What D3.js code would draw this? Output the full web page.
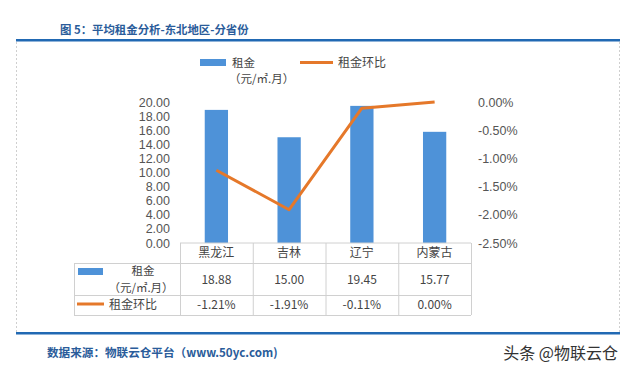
<!DOCTYPE html>
<html>
<head>
<meta charset="utf-8">
<script src="https://cdn.jsdelivr.net/npm/d3@7"></script>
<style>
  html, body { margin: 0; padding: 0; background: #fff; }
  svg { display: block; font-family: "Noto Sans CJK SC", "Noto Sans", sans-serif; }
</style>
</head>
<body>
<div id="chart"></div>
<script>
const provinces = ['黑龙江', '吉林', '辽宁', '内蒙古'];
const rent = [18.88, 15.00, 19.45, 15.77];          // 元/㎡.月
const rentChange = [-0.0121, -0.0191, -0.0011, 0.0]; // 环比
const rentTicks = [0, 2, 4, 6, 8, 10, 12, 14, 16, 18, 20];
const changeTicks = [0, -0.005, -0.01, -0.015, -0.02, -0.025];

(function () {
  const W = 640, H = 377;
  const blue = '#4e92d8', orange = '#e5782a', txt = '#444', head = '#2a5c9a';
  const pct = v => d3.format('.2%')(v).replace('−', '-');
  const svg = d3.select('#chart').append('svg').attr('width', W).attr('height', H);

  // frame: rules + dashed sides
  svg.append('rect').attr('x', 16).attr('y', 39).attr('width', 604).attr('height', 2.5).attr('fill', '#2169b3');
  svg.append('rect').attr('x', 16).attr('y', 332).attr('width', 604).attr('height', 2.5).attr('fill', '#2169b3');
  [16.5, 619.5].forEach(xp => svg.append('line')
    .attr('x1', xp).attr('x2', xp).attr('y1', 42).attr('y2', 332)
    .attr('stroke', '#cfcfcf').attr('stroke-dasharray', '2,2'));

  svg.append('text').attr('x', 60).attr('y', 34)
    .attr('font-size', 11.4).attr('font-weight', 700).attr('fill', head)
    .text('图 5：平均租金分析-东北地区-分省份');

  // legend
  const lg = svg.append('g').attr('font-size', 12).attr('fill', txt);
  lg.append('rect').attr('x', 200).attr('y', 59).attr('width', 26).attr('height', 7).attr('fill', blue);
  lg.append('text').attr('x', 232).attr('y', 66.5).attr('font-size', 11.5).attr('fill', txt).text('租金');
  lg.append('text').attr('x', 229).attr('y', 83).attr('font-size', 11.5).attr('fill', txt).text('（元/㎡.月）');
  lg.append('line').attr('x1', 300).attr('x2', 333).attr('y1', 62.5).attr('y2', 62.5)
    .attr('stroke', orange).attr('stroke-width', 3);
  lg.append('text').attr('x', 338).attr('y', 67).attr('fill', txt).text('租金环比');

  const top = 102, bottom = 243, left = 180, right = 471;
  const x = d3.scaleBand().domain(provinces).range([left, right]).paddingInner(0.68).paddingOuter(0.34);
  const xc = d3.scaleBand().domain(provinces).range([left, right]);
  const y = d3.scaleLinear().domain([0, 20]).range([bottom, top]);
  const y2 = d3.scaleLinear().domain([-0.025, 0]).range([bottom, top]);

  const gy = svg.append('g').attr('transform', `translate(${left},0)`)
    .call(d3.axisLeft(y).tickValues(rentTicks).tickFormat(d3.format('.2f')).tickSize(0).tickPadding(10));
  const gy2 = svg.append('g').attr('transform', `translate(${right},0)`)
    .call(d3.axisRight(y2).tickValues(changeTicks).tickFormat(pct).tickSize(0).tickPadding(7));
  [gy, gy2].forEach(g => {
    g.select('.domain').remove();
    g.selectAll('text').attr('font-size', 12.5).attr('fill', '#555')
      .attr('font-family', '"Liberation Sans", Arial, sans-serif');
  });

  svg.append('g').selectAll('rect').data(provinces).join('rect')
    .attr('x', d => x(d)).attr('width', x.bandwidth())
    .attr('y', (d, i) => y(rent[i])).attr('height', (d, i) => y(0) - y(rent[i]))
    .attr('fill', blue);

  const line = d3.line().x(d => xc(d) + xc.bandwidth() / 2).y((d, i) => y2(rentChange[i]));
  svg.append('path').datum(provinces).attr('d', line)
    .attr('fill', 'none').attr('stroke', orange).attr('stroke-width', 3).attr('stroke-linejoin', 'round');

  // data table
  const rows = [243, 263, 295, 315];
  const tL = 74;
  const grid = svg.append('g').attr('stroke', '#d0d0d0').attr('fill', 'none');
  grid.append('line').attr('x1', left).attr('x2', right).attr('y1', rows[0]).attr('y2', rows[0]);
  [rows[1], rows[2], rows[3]].forEach(yy => grid.append('line')
    .attr('x1', tL).attr('x2', right).attr('y1', yy + 0.5).attr('y2', yy + 0.5));
  grid.append('line').attr('x1', tL + 0.5).attr('x2', tL + 0.5).attr('y1', rows[1]).attr('y2', rows[3]);
  provinces.concat([null]).forEach(p => {
    const xx = p ? xc(p) : right;
    grid.append('line').attr('x1', xx + 0.5).attr('x2', xx + 0.5).attr('y1', rows[0]).attr('y2', rows[3]);
  });

  const tt = svg.append('g').attr('font-size', 12).attr('fill', txt).attr('text-anchor', 'middle');
  const cx = p => xc(p) + xc.bandwidth() / 2;
  tt.selectAll('text.cat').data(provinces).join('text').attr('class', 'cat')
    .attr('x', cx).attr('y', 257).text(d => d);
  tt.selectAll('text.rent').data(provinces).join('text').attr('class', 'rent')
    .attr('x', cx).attr('y', 283.5).text((d, i) => d3.format('.2f')(rent[i]));
  tt.selectAll('text.chg').data(provinces).join('text').attr('class', 'chg')
    .attr('x', cx).attr('y', 309).text((d, i) => pct(rentChange[i]));

  svg.append('rect').attr('x', 78).attr('y', 268).attr('width', 25).attr('height', 7).attr('fill', blue);
  tt.append('text').attr('x', 143).attr('y', 275).attr('font-size', 11.5).text('租金');
  tt.append('text').attr('x', 141).attr('y', 291.5).attr('font-size', 11.5).text('（元/㎡.月）');
  svg.append('line').attr('x1', 77).attr('x2', 104).attr('y1', 304).attr('y2', 304)
    .attr('stroke', orange).attr('stroke-width', 3);
  svg.append('text').attr('x', 109).attr('y', 309).attr('font-size', 12).attr('fill', txt).text('租金环比');

  // footer
  svg.append('text').attr('x', 47).attr('y', 357)
    .attr('font-size', 11.6).attr('font-weight', 700).attr('fill', head)
    .text('数据来源：物联云仓平台（www.50yc.com)');
  svg.append('text').attr('x', 618).attr('y', 359).attr('text-anchor', 'end')
    .attr('font-size', 16).attr('fill', '#333')
    .attr('stroke', '#fff').attr('stroke-width', 2).attr('paint-order', 'stroke')
    .text('头条 @物联云仓');
})();
</script>
</body>
</html>
